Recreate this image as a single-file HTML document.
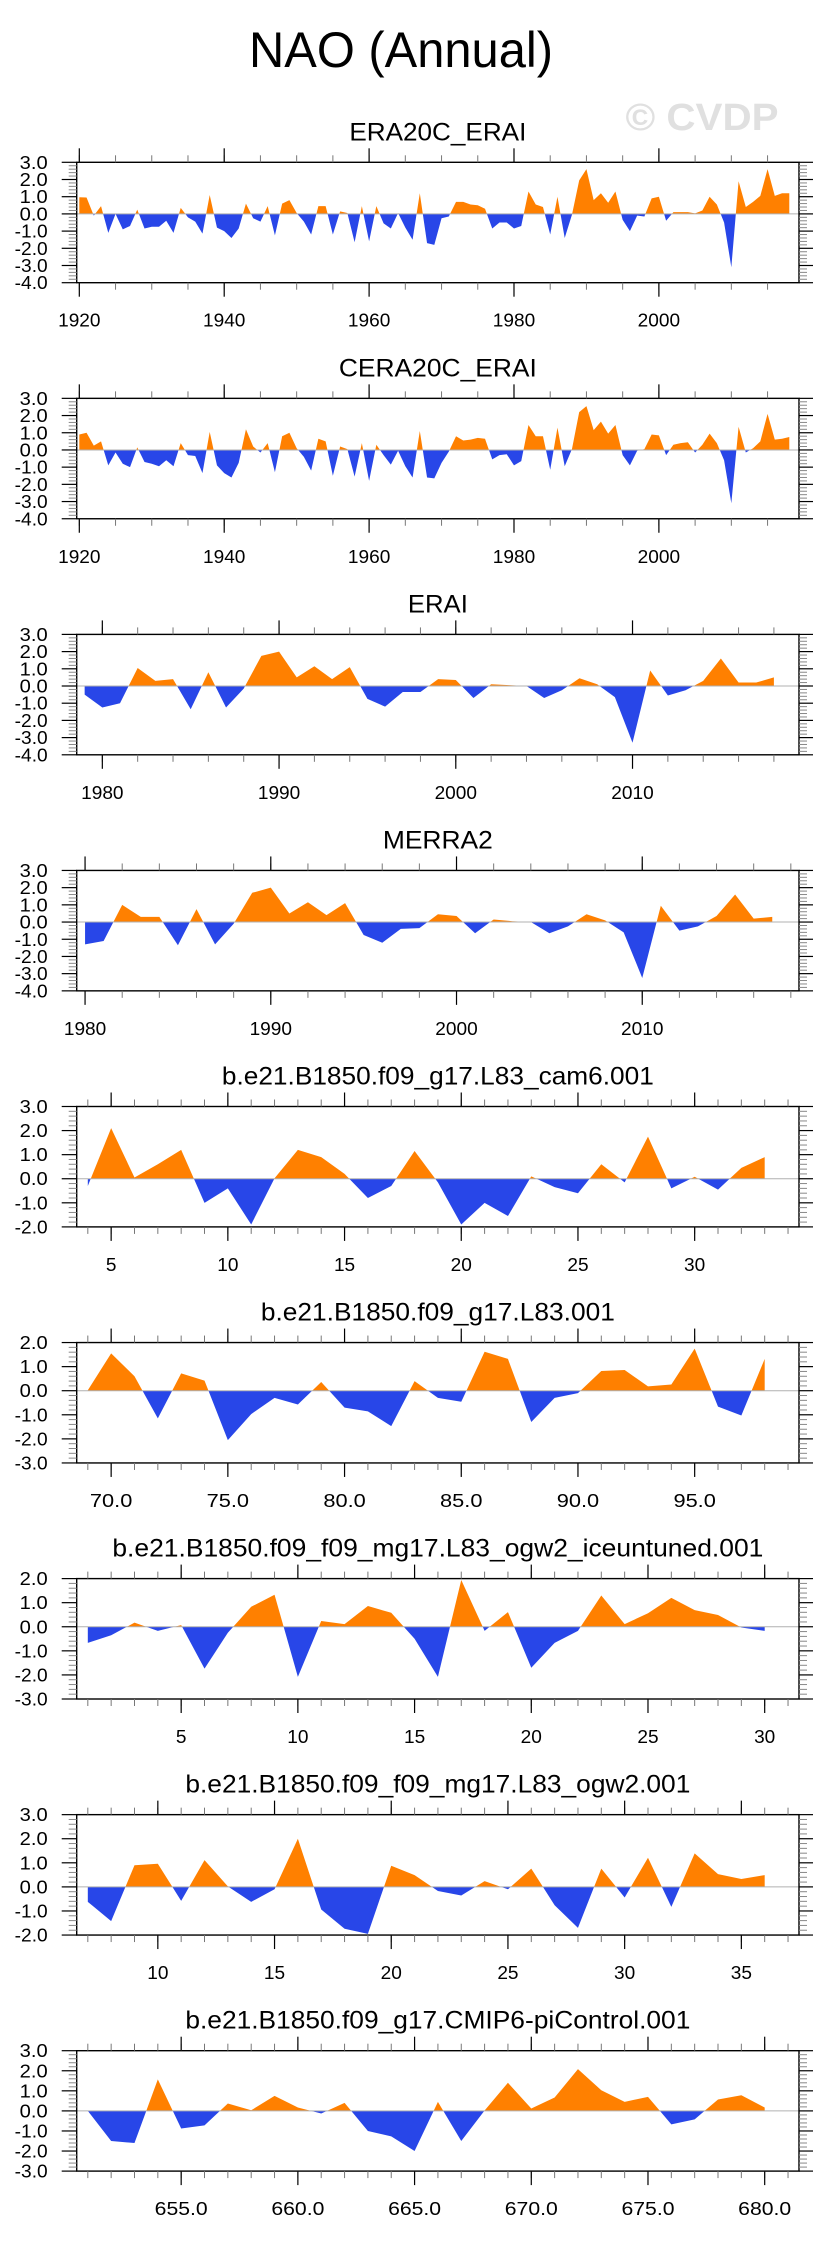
<!DOCTYPE html>
<html><head><meta charset="utf-8"><title>NAO (Annual)</title>
<style>
html,body{margin:0;padding:0;background:#fff;}
svg{display:block;font-family:"Liberation Sans",Arial,sans-serif;}
</style></head>
<body>
<svg id="chart" width="829" height="2245" viewBox="0 0 829 2245" xmlns="http://www.w3.org/2000/svg">
<rect x="0" y="0" width="829" height="2245" fill="#fff"/>
<text x="401" y="67" font-size="50" text-anchor="middle" textLength="304" lengthAdjust="spacingAndGlyphs" fill="#000">NAO (Annual)</text>
<text x="702" y="130" font-size="38" font-weight="bold" text-anchor="middle" textLength="153" lengthAdjust="spacingAndGlyphs" fill="#e0e0e0">© CVDP</text>
</svg>
<script>
// ---- data ----
const era20cStart = 1920;
const era20cVals = [0.97,0.95,-0.1,0.45,-1.1,0.0,-0.9,-0.7,0.25,-0.85,-0.75,-0.75,-0.4,-1.1,0.35,-0.2,-0.45,-1.15,1.1,-0.8,-1.0,-1.4,-0.85,0.6,-0.25,-0.45,0.45,-1.25,0.6,0.8,0.05,-0.45,-1.2,0.45,0.45,-1.2,0.15,0.05,-1.65,0.45,-1.6,0.45,-0.55,-0.85,0.05,-0.8,-1.5,1.2,-1.7,-1.8,-0.25,-0.15,0.7,0.7,0.55,0.5,0.3,-0.85,-0.5,-0.5,-0.85,-0.7,1.3,0.55,0.4,-1.2,1.0,-1.4,-0.05,1.95,2.6,0.8,1.2,0.65,1.3,-0.35,-1.0,-0.1,-0.15,0.9,1.0,-0.4,0.1,0.1,0.1,0.03,0.2,1.0,0.55,-0.5,-3.1,1.9,0.4,0.7,1.05,2.6,1.05,1.2,1.2];
const cera20cStart = 1920;
const cera20cVals = [0.9,1.0,0.25,0.5,-0.9,-0.15,-0.8,-1.0,0.15,-0.7,-0.8,-0.95,-0.6,-0.95,0.4,-0.3,-0.35,-1.35,1.05,-0.9,-1.35,-1.6,-0.75,1.2,0.2,-0.15,0.4,-1.3,0.8,1.0,0.1,-0.4,-1.2,0.65,0.5,-1.5,0.2,0.05,-1.55,0.4,-1.8,0.3,-0.3,-0.85,-0.05,-0.95,-1.6,1.1,-1.6,-1.65,-0.75,-0.1,0.8,0.55,0.6,0.7,0.65,-0.55,-0.3,-0.25,-0.9,-0.65,1.45,0.8,0.8,-1.15,1.3,-0.95,0.05,2.2,2.55,1.15,1.65,0.95,1.45,-0.3,-0.9,-0.05,0.05,0.9,0.85,-0.3,0.3,0.4,0.45,-0.15,0.3,0.95,0.4,-0.6,-3.1,1.35,-0.15,0.1,0.5,2.1,0.6,0.65,0.75];
const eraiStart = 1979;
const eraiVals = [-0.5,-1.25,-1.0,1.05,0.3,0.4,-1.35,0.8,-1.25,-0.15,1.75,2.0,0.5,1.15,0.4,1.1,-0.75,-1.2,-0.35,-0.35,0.4,0.35,-0.7,0.1,0.05,0.0,-0.7,-0.25,0.45,0.1,-0.65,-3.3,0.9,-0.55,-0.25,0.3,1.6,0.2,0.2,0.5];
const merra2Start = 1980;
const merra2Vals = [-1.3,-1.1,1.0,0.3,0.3,-1.35,0.75,-1.3,-0.1,1.7,2.0,0.5,1.15,0.4,1.1,-0.75,-1.2,-0.4,-0.35,0.45,0.35,-0.65,0.15,0.05,0.0,-0.65,-0.25,0.45,0.1,-0.6,-3.25,0.95,-0.5,-0.25,0.35,1.6,0.2,0.3];
const cam6Start = 4;
const cam6Vals = [-0.3,2.1,0.05,0.6,1.2,-1.0,-0.4,-1.9,0.02,1.2,0.9,0.2,-0.8,-0.3,1.15,-0.15,-1.9,-1.0,-1.55,0.1,-0.35,-0.6,0.6,-0.15,1.75,-0.4,0.08,-0.45,0.45,0.9];
const l83Start = 69;
const l83Vals = [0.02,1.55,0.6,-1.15,0.72,0.42,-2.05,-0.97,-0.3,-0.57,0.36,-0.7,-0.86,-1.47,0.4,-0.3,-0.46,1.62,1.32,-1.3,-0.3,-0.1,0.82,0.86,0.18,0.26,1.75,-0.66,-1.03,1.32];
const iceStart = 1;
const iceVals = [-0.67,-0.35,0.17,-0.17,0.07,-1.74,-0.25,0.83,1.33,-2.08,0.24,0.11,0.86,0.58,-0.5,-2.08,1.94,-0.17,0.61,-1.7,-0.67,-0.17,1.3,0.11,0.56,1.2,0.69,0.49,-0.03,-0.17];
const ogw2Start = 7;
const ogw2Vals = [-0.62,-1.42,0.9,0.96,-0.58,1.11,0.02,-0.62,-0.1,2.0,-0.94,-1.74,-1.95,0.88,0.49,-0.17,-0.36,0.24,-0.1,0.76,-0.76,-1.7,0.76,-0.44,1.21,-0.83,1.39,0.53,0.33,0.49];
const cmip6Start = 651;
const cmip6Vals = [0.0,-1.5,-1.6,1.57,-0.88,-0.72,0.37,0.03,0.75,0.17,-0.13,0.4,-1.0,-1.27,-2.0,0.45,-1.5,0.02,1.4,0.12,0.67,2.08,1.03,0.45,0.7,-0.67,-0.42,0.57,0.78,0.17];

// ---- tick labels ----
const era20cTicks = [1920,1940,1960,1980,2000];
const eraiTicks = [1980,1990,2000,2010];
const merra2Ticks = [1980,1990,2000,2010];
const cam6Ticks = [5,10,15,20,25,30];
const l83Ticks = ["70.0","75.0","80.0","85.0","90.0","95.0"];
const iceTicks = [5,10,15,20,25,30];
const ogw2Ticks = [10,15,20,25,30,35];
const cmip6Ticks = ["655.0","660.0","665.0","670.0","675.0","680.0"];
const titles = ["ERA20C_ERAI","CERA20C_ERAI","ERAI","MERRA2","b.e21.B1850.f09_g17.L83_cam6.001","b.e21.B1850.f09_g17.L83.001","b.e21.B1850.f09_f09_mg17.L83_ogw2_iceuntuned.001","b.e21.B1850.f09_f09_mg17.L83_ogw2.001","b.e21.B1850.f09_g17.CMIP6-piControl.001"];

// ---- layout ----
const NS = "http://www.w3.org/2000/svg";
const svg = document.getElementById("chart");
const FL = 76.7, FR = 799.0, FH = 120.4;
function mk(tag, attrs, parent){
  const e = document.createElementNS(NS, tag);
  for (const k in attrs) e.setAttribute(k, attrs[k]);
  (parent||svg).appendChild(e);
  return e;
}
const panels = [
  {name:"era20c", vals:era20cVals, start:era20cStart, xmin:1919.64, xmax:2019.34, minor:5, ticks:era20cTicks, yr:[-4,3], tw:177},
  {name:"cera20c", vals:cera20cVals, start:cera20cStart, xmin:1919.64, xmax:2019.34, minor:5, ticks:era20cTicks, yr:[-4,3], tw:198},
  {name:"erai", vals:eraiVals, start:eraiStart, xmin:1978.55, xmax:2019.42, minor:2, ticks:eraiTicks, yr:[-4,3], tw:60},
  {name:"merra2", vals:merra2Vals, start:merra2Start, xmin:1979.55, xmax:2018.44, minor:2, ticks:merra2Ticks, yr:[-4,3], tw:110},
  {name:"cam6", vals:cam6Vals, start:cam6Start, xmin:cam6Start-0.476, xmax:cam6Start+30.47, minor:1, ticks:cam6Ticks, yr:[-2,3], tw:432},
  {name:"l83", vals:l83Vals, start:l83Start, xmin:l83Start-0.476, xmax:l83Start+30.47, minor:1, ticks:l83Ticks, yr:[-3,2], tw:354},
  {name:"iceuntuned", vals:iceVals, start:iceStart, xmin:iceStart-0.476, xmax:iceStart+30.47, minor:1, ticks:iceTicks, yr:[-3,2], tw:651},
  {name:"ogw2", vals:ogw2Vals, start:ogw2Start, xmin:ogw2Start-0.476, xmax:ogw2Start+30.47, minor:1, ticks:ogw2Ticks, yr:[-2,3], tw:505},
  {name:"cmip6", vals:cmip6Vals, start:cmip6Start, xmin:cmip6Start-0.476, xmax:cmip6Start+30.47, minor:1, ticks:cmip6Ticks, yr:[-3,3], tw:505}
];

panels.forEach((p, k) => {
  const top = 162.3 + 236.05*k, bot = top + FH;
  const xs = v => FL + (v - p.xmin) / (p.xmax - p.xmin) * (FR - FL);
  const ys = v => bot - (v - p.yr[0]) / (p.yr[1] - p.yr[0]) * FH;
  const g = mk("g", {});
  
  

  const t = mk("text", {x:(FL+FR)/2, y:top-22, "font-size":25, "text-anchor":"middle", textLength:p.tw, lengthAdjust:"spacingAndGlyphs", fill:"#000"}, g);
  t.textContent = titles[k];
  
  

  // area fills
  const z = ys(0);
  let pts = [[xs(p.start), z]];
  p.vals.forEach((v,i) => pts.push([xs(p.start+i), ys(v)]));
  pts.push([xs(p.start+p.vals.length-1), z]);
  const ptsStr = pts.map(q => q[0].toFixed(2)+","+q[1].toFixed(2)).join(" ");
  const cpA = mk("clipPath", {id:"ca"+k}, g);
  mk("rect", {x:FL, y:top, width:FR-FL, height:z-top}, cpA);
  const cpB = mk("clipPath", {id:"cb"+k}, g);
  mk("rect", {x:FL, y:z, width:FR-FL, height:bot-z}, cpB);
  const pa = mk("polygon", {points:ptsStr, fill:"#ff8000", "clip-path":"url(#ca"+k+")"}, g);
  
  
  const pb = mk("polygon", {points:ptsStr, fill:"#2846e8", "clip-path":"url(#cb"+k+")"}, g);
  
  
  const zl = mk("line", {x1:FL, x2:FR, y1:z, y2:z, stroke:"#b0b0b0", "stroke-width":1}, g);
  
  

  // frame
  const fr = mk("rect", {x:FL, y:top, width:FR-FL, height:FH, fill:"none", stroke:"#000", "stroke-width":1.4}, g);
  
  

  // x ticks
  const first = Math.ceil(p.xmin/p.minor)*p.minor;
  for (let v = first; v <= p.xmax; v += p.minor) {
    const x = xs(v);
    mk("line", {x1:x, x2:x, y1:top, y2:top-7, stroke:"#777", "stroke-width":1}, g);
    mk("line", {x1:x, x2:x, y1:bot, y2:bot+7, stroke:"#777", "stroke-width":1}, g);
  }
  p.ticks.forEach(lab => {
    const x = xs(parseFloat(lab));
    const s = String(lab);
    mk("line", {x1:x, x2:x, y1:top, y2:top-14, stroke:"#000", "stroke-width":1.2}, g);
    mk("line", {x1:x, x2:x, y1:bot, y2:bot+14, stroke:"#000", "stroke-width":1.2}, g);
    const tl = mk("text", {x:x, y:bot+44, "font-size":18.5, "text-anchor":"middle", fill:"#000", textLength:(s.length*10.6).toFixed(1), lengthAdjust:"spacingAndGlyphs"}, g);
    tl.textContent = s;
    
    
  });

  // y ticks
  for (let m = p.yr[0]*5; m <= p.yr[1]*5; m++) {
    const y = ys(m/5);
    if (m % 5 === 0) {
      mk("line", {x1:FL-15, x2:FL, y1:y, y2:y, stroke:"#000", "stroke-width":1.2}, g);
      mk("line", {x1:FR, x2:FR+14, y1:y, y2:y, stroke:"#000", "stroke-width":1.2}, g);
      const s = (m/5).toFixed(1);
      const yl = mk("text", {x:47.7, y:y+6.5, "font-size":18, "text-anchor":"end", fill:"#000", textLength:(m<0?33:28), lengthAdjust:"spacingAndGlyphs"}, g);
      yl.textContent = s;
      
      
    } else {
      mk("line", {x1:FL-8, x2:FL, y1:y, y2:y, stroke:"#888", "stroke-width":1}, g);
      mk("line", {x1:FR, x2:FR+8, y1:y, y2:y, stroke:"#888", "stroke-width":1}, g);
    }
  }
});
</script>
</body></html>
